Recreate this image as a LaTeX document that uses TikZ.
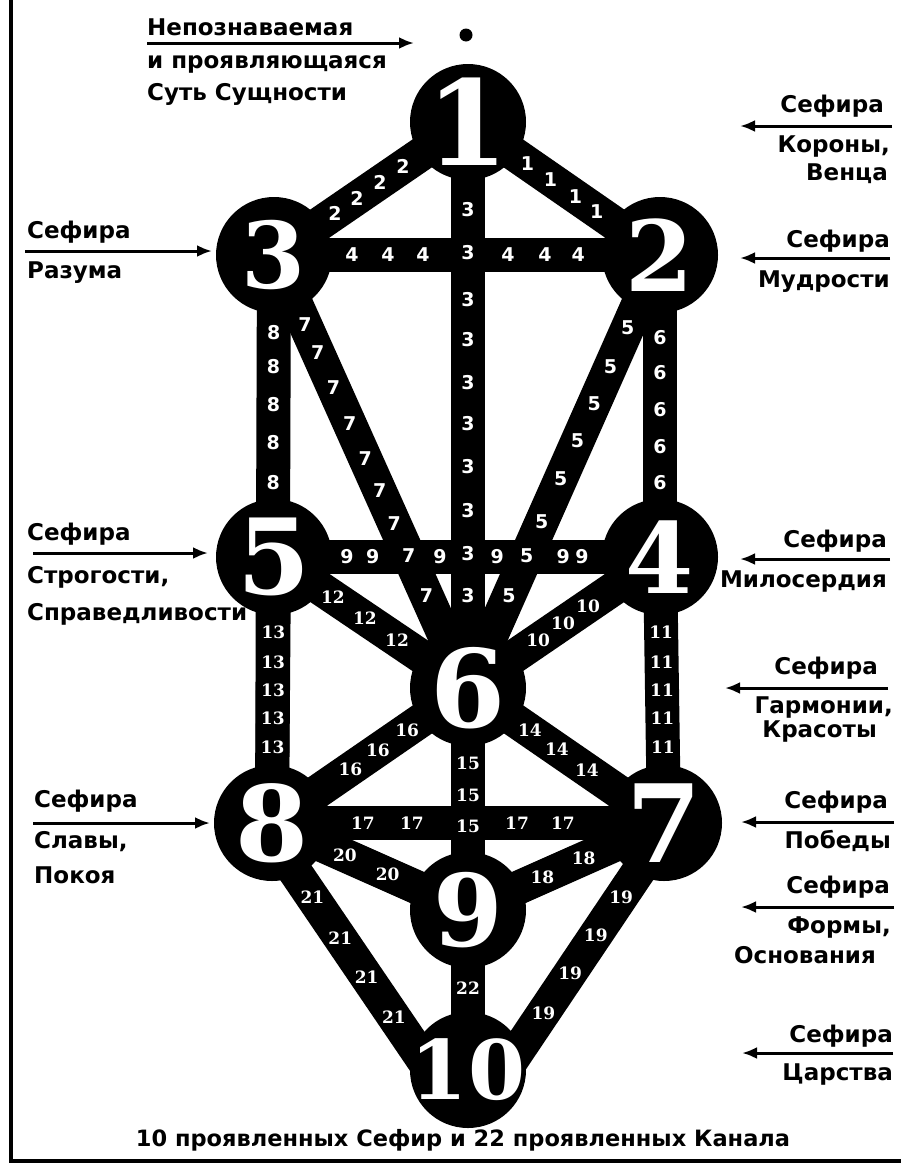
\documentclass[tikz,border=0pt]{standalone}
\usepackage{fontspec}
\setmainfont{DejaVu Sans}
\newfontfamily\numfont{DejaVu Serif}
\newfontfamily\chanfont{DejaVu Sans}
\usetikzlibrary{arrows.meta,backgrounds}

\tikzset{
  sefira/.style={circle, fill=black, minimum size=116pt, inner sep=0pt},
  numeral/.style={text=white, inner sep=0pt, font=\numfont\bfseries\fontsize{#1}{#1}\selectfont},
  numeral/.default=100,
  band/.style={line width=34pt},
  chan/.style={text=white, inner sep=0pt, font=\bfseries},
  txt/.style={inner sep=0pt, font=\bfseries\fontsize{23}{23}\selectfont},
  pointer/.style={line width=3pt, -{Latex[length=15pt,width=12pt]}},
}

% white channel numbers: one digit sans, two digits serif
\newcommand\chanlab[1]{\ifnum#1<10 \chanfont\fontsize{19}{19}\selectfont #1\else\numfont\fontsize{17}{17}\selectfont #1\fi}

% from/to/channel/positions along the channel
\def\channels{s1/s2/1/{.31,.43,.56,.67}, s1/s3/2/{.335,.454,.572,.686},
  s1/s6/3/{.155,.231,.313,.384,.46,.533,.609,.687,.762,.836},
  s3/s2/4/{.202,.295,.386,.606,.702,.788},
  s2/s6/5/{.168,.258,.343,.43,.517,.616,.694,.786},
  s2/s4/6/{.272,.391,.513,.636,.755},
  s3/s6/7/{.16,.226,.306,.39,.47,.545,.62,.694,.786},
  s3/s8/8/{.137,.197,.264,.331,.40},
  s5/s4/9/{.189,.256,.43,.578,.749,.798},
  s4/s6/10/{.375,.505,.635}, s4/s7/11/{.282,.395,.5,.605,.714},
  s5/s6/12/{.304,.469,.634}, s5/s8/13/{.282,.395,.5,.605,.714},
  s6/s7/14/{.316,.454,.607}, s6/s9/15/{.34,.482,.623},
  s6/s8/16/{.31,.46,.60}, s8/s7/17/{.232,.357,.625,.742},
  s7/s9/18/{.41,.62}, c19a/c19b/19/{.30,.453,.607,.769},
  s8/s9/20/{.372,.59}, c21a/c21b/21/{.30,.466,.623,.785},
  s9/s10/22/{.49}}

\begin{document}
\begin{tikzpicture}[x=1pt, y=-1pt]
    \useasboundingbox (0,0) rectangle (901,1165);

    % рамка
    \draw[line width=4pt] (11,0) -- (11,1161) -- (901,1161);

    % Сефиры
    \node[circle, fill=black, minimum size=13pt, inner sep=0pt] (dot) at (466,35) {};
    \node[sefira, label={[numeral=118]center:1}] (s1) at (468,122) {};
    \node[sefira, label={[numeral=98]center:2}] (s2) at (660,255) {};
    \node[sefira, label={[numeral=92]center:3}] (s3) at (274,255) {};
    \node[sefira, label={[numeral=98]center:4}] (s4) at (660,557) {};
    \node[sefira, label={[numeral=105]center:5}] (s5) at (274,557) {};
    \node[sefira, label={[numeral=108]center:6}] (s6) at (468,688) {};
    \node[sefira, label={[numeral=108]center:7}] (s7) at (664,823) {};
    \node[sefira, label={[numeral=105]center:8}] (s8) at (272,823) {};
    \node[sefira, label={[numeral=100]center:9}] (s9) at (468,910) {};
    \node[sefira, label={[numeral=82]center:10}] (s10) at (468,1070) {};

    \coordinate (c19a) at ([xshift=7pt]s7.center);
    \coordinate (c19b) at ([xshift=37pt]s10.center);
    \coordinate (c21a) at ([xshift=-10pt]s8.center);
    \coordinate (c21b) at ([xshift=-38pt]s10.center);

    % Каналы
    \begin{scope}[on background layer]
        \foreach \a/\b/\n/\ts in \channels
            \draw[band] (\a.center) -- (\b.center);
    \end{scope}
    \foreach \a/\b/\n/\ts in \channels
        \foreach \t [count=\i] in \ts
            \path (\a.center) -- (\b.center) node[chan, pos=\t] (n\n-\i) {\chanlab{\n}};

    % подписи слева
    \node[txt, anchor=base west] (top1) at (147,35) {Непознаваемая};
    \node[txt, anchor=base west] (top2) at (147,68) {и проявляющаяся};
    \node[txt, anchor=base west] (top3) at (147,100) {Суть Сущности};
    \coordinate (p0s) at (147,43); \coordinate (p0e) at (414,43);
    \draw[pointer] (p0s) -- (p0e);

    \node[txt, anchor=base west] (s3a) at (27,238) {Сефира};
    \node[txt, anchor=base west] (s3b) at (27,278) {Разума};
    \coordinate (p3s) at (25,251); \coordinate (p3e) at (212,251);
    \draw[pointer] (p3s) -- (p3e);

    \node[txt, anchor=base west] (s5a) at (27,540) {Сефира};
    \node[txt, anchor=base west] (s5b) at (27,583) {Строгости,};
    \node[txt, anchor=base west] (s5c) at (27,620) {Справедливости};
    \coordinate (p5s) at (33,553); \coordinate (p5e) at (208,553);
    \draw[pointer] (p5s) -- (p5e);

    \node[txt, anchor=base west] (s8a) at (34,807) {Сефира};
    \node[txt, anchor=base west] (s8b) at (34,848) {Славы,};
    \node[txt, anchor=base west] (s8c) at (34,883) {Покоя};
    \coordinate (p8s) at (33,823); \coordinate (p8e) at (210,823);
    \draw[pointer] (p8s) -- (p8e);

    % подписи справа
    \node[txt, anchor=base east] (s1a) at (884,112) {Сефира};
    \node[txt, anchor=base east] (s1b) at (890,152) {Короны,};
    \node[txt, anchor=base east] (s1c) at (888,180) {Венца};
    \coordinate (p1s) at (892,126); \coordinate (p1e) at (740,126);
    \draw[pointer] (p1s) -- (p1e);

    \node[txt, anchor=base east] (s2a) at (890,247) {Сефира};
    \node[txt, anchor=base east] (s2b) at (890,287) {Мудрости};
    \coordinate (p2s) at (890,258); \coordinate (p2e) at (740,258);
    \draw[pointer] (p2s) -- (p2e);

    \node[txt, anchor=base east] (s4a) at (887,547) {Сефира};
    \node[txt, anchor=base east] (s4b) at (887,587) {Милосердия};
    \coordinate (p4s) at (890,559); \coordinate (p4e) at (740,559);
    \draw[pointer] (p4s) -- (p4e);

    \node[txt, anchor=base east] (s6a) at (878,674) {Сефира};
    \node[txt, anchor=base east] (s6b) at (893,713) {Гармонии,};
    \node[txt, anchor=base east] (s6c) at (877,737) {Красоты};
    \coordinate (p6s) at (888,688); \coordinate (p6e) at (725,688);
    \draw[pointer] (p6s) -- (p6e);

    \node[txt, anchor=base east] (s7a) at (888,808) {Сефира};
    \node[txt, anchor=base east] (s7b) at (891,848) {Победы};
    \coordinate (p7s) at (894,822); \coordinate (p7e) at (741,822);
    \draw[pointer] (p7s) -- (p7e);

    \node[txt, anchor=base east] (s9a) at (890,893) {Сефира};
    \node[txt, anchor=base east] (s9b) at (891,933) {Формы,};
    \node[txt, anchor=base east] (s9c) at (876,963) {Основания};
    \coordinate (p9s) at (894,907); \coordinate (p9e) at (741,907);
    \draw[pointer] (p9s) -- (p9e);

    \node[txt, anchor=base east] (s10a) at (893,1042) {Сефира};
    \node[txt, anchor=base east] (s10b) at (893,1080) {Царства};
    \coordinate (p10s) at (893,1053); \coordinate (p10e) at (742,1053);
    \draw[pointer] (p10s) -- (p10e);

    \node[txt, font=\bfseries\fontsize{22.5}{22.5}\selectfont, anchor=base] (caption) at (463,1146)
        {10 проявленных Сефир и 22 проявленных Канала};
\end{tikzpicture}
\end{document}
